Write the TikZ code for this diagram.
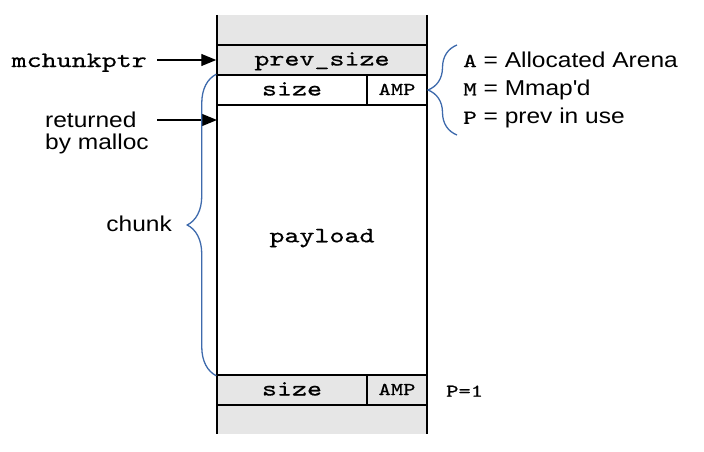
\documentclass[tikz,border=0pt]{standalone}
\usepackage{fontspec}
\setmainfont{Liberation Sans}[FakeStretch=1.14]
\newfontfamily\codefont{lmmono10-regular.otf}[FakeStretch=1.3,FakeBold=0.6]
\usetikzlibrary{arrows.meta,decorations.pathreplacing}
\definecolor{memgray}{RGB}{230,230,230}
\definecolor{braceblue}{RGB}{62,106,172}
\newcommand{\bigmono}{\codefont\fontsize{22}{24}\selectfont}
\newcommand{\smallmono}{\codefont\fontsize{18}{20}\selectfont}
\newcommand{\flagmono}{\codefont\fontsize{20}{20}\selectfont}
\newcommand{\labelfont}{\fontsize{21.5}{28.3}\selectfont}
\tikzset{
  cell/.style={draw, line width=1.5pt, inner sep=0pt, minimum height=30pt,
    text height=12pt, text depth=1pt, font=\bigmono},
  flagcell/.style={cell, font=\smallmono, text height=10pt, text depth=0pt, minimum width=60pt},
  ptr/.style={line width=1.3pt, -{Triangle[length=15pt,width=12pt]}},
  curly/.style={braceblue, line width=1.3pt, decorate, decoration={brace, amplitude=29pt}},
}
\begin{document}
\begin{tikzpicture}[x=1pt, y=-1pt]
  \useasboundingbox (0,0) rectangle (704,452);
  % memory around the chunk
  \fill[memgray] (217,15) rectangle (427,45);
  \fill[memgray] (217,405) rectangle (427,434);
  \node[cell, fill=memgray, minimum width=210pt] (prevsize) at (322,60) {prev\_size};
  \node[cell, minimum width=150pt] (size) at (292,90) {size};
  \node[flagcell] (amp) at (397,90) {AMP};
  \node[cell, minimum width=210pt, minimum height=270pt, text height=8pt, text depth=3.4pt] (payload) at (322,240) {payload};
  \node[cell, fill=memgray, minimum width=150pt] (nextsize) at (292,390) {size};
  \node[flagcell, fill=memgray] (nextamp) at (397,390) {AMP};
  \draw[line width=1.5pt] (217,15) -- (217,434) (427,15) -- (427,434);
  % labels
  \node[font=\bigmono, anchor=base east, inner sep=0pt] (mchunkptr) at (147,67) {mchunkptr};
  \node[font=\labelfont, align=left, anchor=north west, inner sep=0pt] (returned) at (45,111.5) {returned\\[-6pt]by malloc};
  \node[font=\labelfont, anchor=base east, inner sep=0pt] (chunk) at (172,231.7) {chunk};
  \node[font=\labelfont, align=left, anchor=north west, inner sep=0pt] (legend) at (463,51.4)
    {{\flagmono A} = Allocated Arena\\{\flagmono M} = Mmap\textquotesingle d\\{\flagmono P} = prev in use};
  \node[font=\smallmono, anchor=base west, inner sep=0pt] (pone) at (446,396.7) {P=1};
  % pointers
  \coordinate (retstart) at (157,120);
  \coordinate (userptr) at (217,120);
  \draw[ptr] ([xshift=10pt]mchunkptr.east |- prevsize.west) -- (prevsize.west);
  \draw[ptr] (retstart) -- (userptr);
  % braces
  \coordinate (flagbot) at (457,135);
  \coordinate (flagtop) at (457,45);
  \draw[curly] (payload.south west) -- (size.north west);
  \draw[curly] (flagbot) -- (flagtop);
\end{tikzpicture}
\end{document}
